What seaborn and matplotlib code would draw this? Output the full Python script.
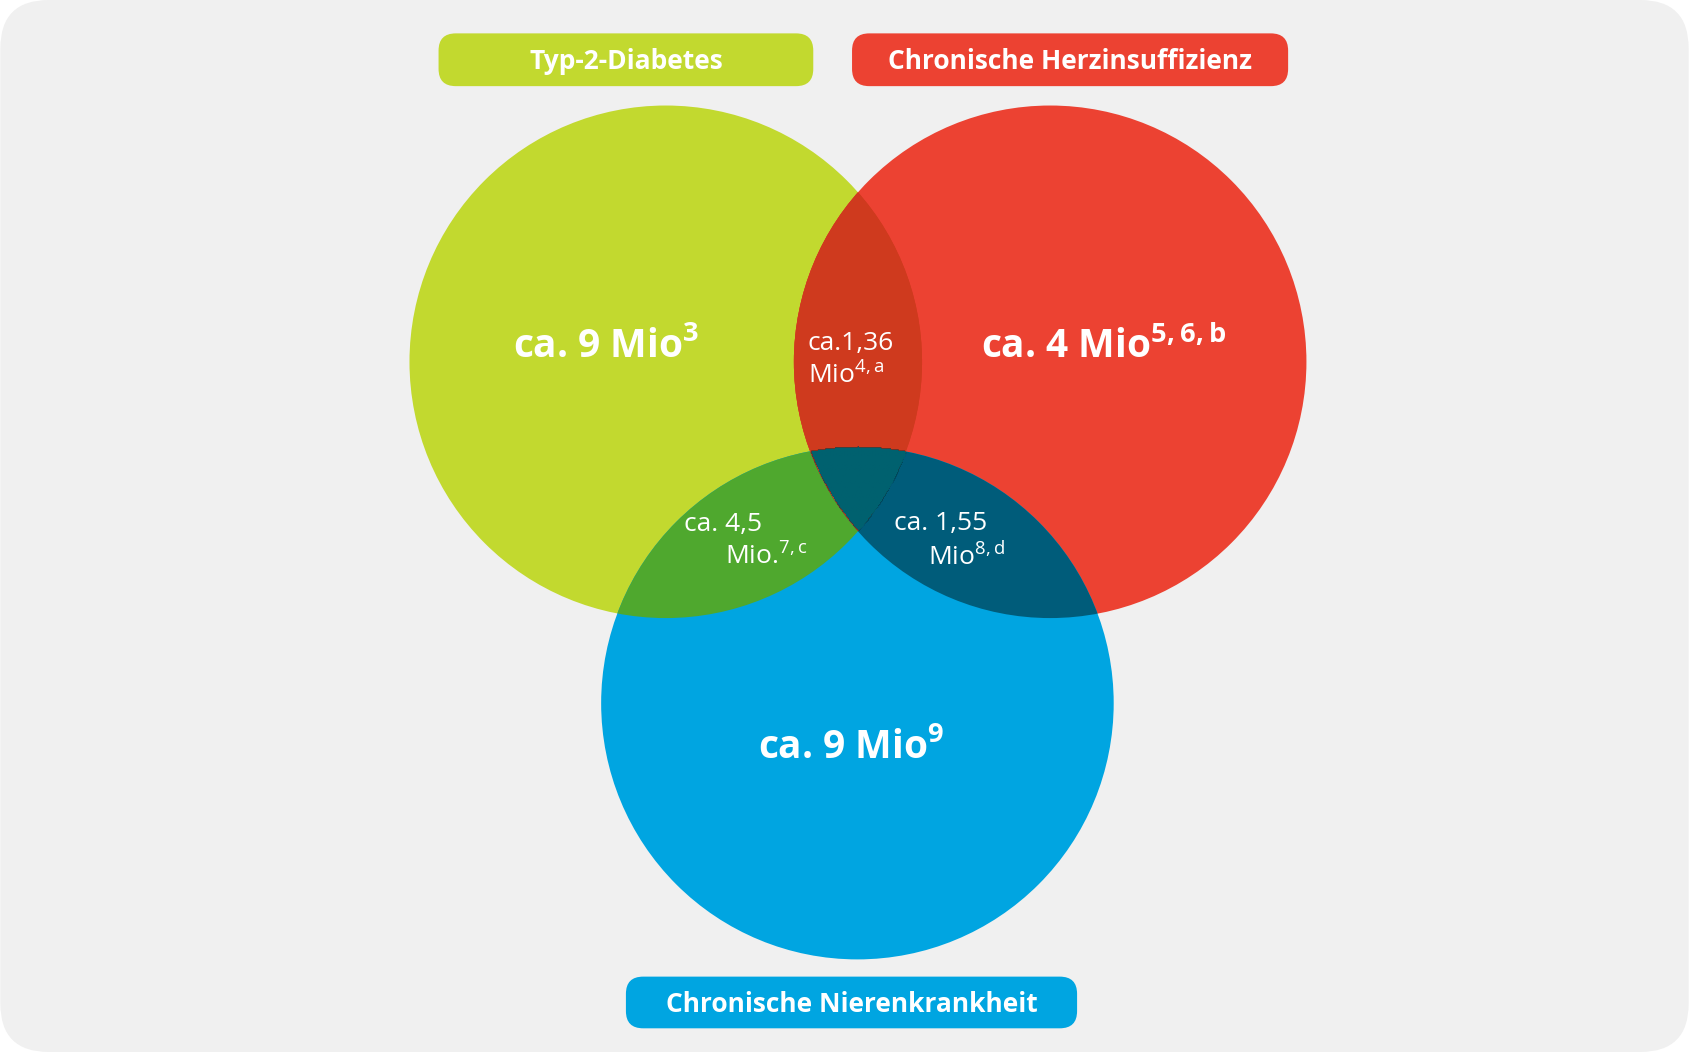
import matplotlib
matplotlib.use("Agg")
import matplotlib.pyplot as plt
import seaborn as sns
from matplotlib.patches import Circle, FancyBboxPatch

sns.set_theme(style="white")
plt.rcParams["font.family"] = "Open Sans"
plt.rcParams["mathtext.fontset"] = "custom"
plt.rcParams["mathtext.rm"] = "Open Sans"
plt.rcParams["mathtext.bf"] = "Open Sans:bold"
plt.rcParams["mathtext.default"] = "regular"

# data
sets = ["Typ-2-Diabetes", "Chronische Herzinsuffizienz", "Chronische Nierenkrankheit"]
set_values = ["ca. 9 Mio$^{3}$", "ca. 4 Mio$^{5,6,b}$", "ca. 9 Mio$^{9}$"]
pair_values = ["ca.1,36\nMio$^{4,a}$", "ca. 4,5\n      Mio.$^{7,c}$", "ca. 1,55\n     Mio$^{8,d}$"]

colors = ["#C2D92F", "#EC4232", "#00A5E1"]
centers = [(618, 336), (975, 336), (796, 653)]
R = 238
pair_colors = {(0, 1): "#CF3A1E", (0, 2): "#4FA82E", (1, 2): "#005C7A"}
triple_color = "#00616F"

fig = plt.figure(figsize=(16.89, 10.52), dpi=100)
ax = fig.add_axes([0, 0, 1, 1])
ax.set_xlim(0, 1568)
ax.set_ylim(977, 0)
ax.axis("off")
fig.patch.set_facecolor("white")
ax.add_patch(FancyBboxPatch((0, 0), 1568, 977, boxstyle="round,pad=0,rounding_size=45",
                            fc="#F0F0F0", ec="none"))

for c, col in zip(centers, colors):
    ax.add_patch(Circle(c, R, fc=col, ec="none"))

for (i, j), col in pair_colors.items():
    p = Circle(centers[j], R, fc=col, ec="none")
    ax.add_patch(p)
    p.set_clip_path(Circle(centers[i], R, transform=ax.transData))

tri = Circle(centers[2], R, fc=triple_color, ec="none")
ax.add_patch(tri)
# clip to intersection of circle 0 and 1 via nested patch
from matplotlib.path import Path
import matplotlib.transforms as mt
inner = Circle(centers[1], R, fc=triple_color, ec="none")
ax.add_patch(inner)
inner.set_clip_path(Circle(centers[0], R, transform=ax.transData))
tri.remove()
# draw triple region: points in all three -> clip (circle1 ∩ circle0) artist further by circle2 using image trick
import numpy as np
xs, ys = np.meshgrid(np.arange(540, 1060), np.arange(90, 900))
d0 = (xs - centers[0][0])**2 + (ys - centers[0][1])**2 <= R**2
d1 = (xs - centers[1][0])**2 + (ys - centers[1][1])**2 <= R**2
d2 = (xs - centers[2][0])**2 + (ys - centers[2][1])**2 <= R**2
# redraw pair 0-1 on top of inner (inner was triple colour in 0∩1), then triple
inner.set_facecolor(pair_colors[(0, 1)])
mask = np.ma.masked_where(~(d0 & d1 & d2), np.ones(xs.shape))
ax.imshow(mask, extent=(540, 1060, 900, 90), cmap=matplotlib.colors.ListedColormap([triple_color]),
          interpolation="antialiased", zorder=3)
ax.set_xlim(0, 1568)
ax.set_ylim(977, 0)

# labels
boxes = [(407, 31, 348, 49), (791, 31, 405, 49), (581, 907, 419, 48)]
for (x, y, w, h), col, name in zip(boxes, colors, sets):
    ax.add_patch(FancyBboxPatch((x, y), w, h, boxstyle="round,pad=0,rounding_size=16",
                                fc=col, ec="none", zorder=4))
    ax.text(x + w / 2, y + h / 2 + 2, name, color="white", fontsize=19, fontweight="bold",
            ha="center", va="center", zorder=5)

set_pos = [(563, 322), (1025, 322), (790, 694)]
for (x, y), t in zip(set_pos, set_values):
    ax.text(x, y, t, color="white", fontsize=28, fontweight="bold", ha="center", va="center", zorder=5)

pair_pos = [(750, 335), (635, 503), (830, 503)]
for (x, y), t in zip(pair_pos, pair_values):
    ax.text(x, y, t, color="white", fontsize=19, ha="left", va="center", linespacing=1.3, zorder=5)

fig.savefig("out.png", dpi=100)
